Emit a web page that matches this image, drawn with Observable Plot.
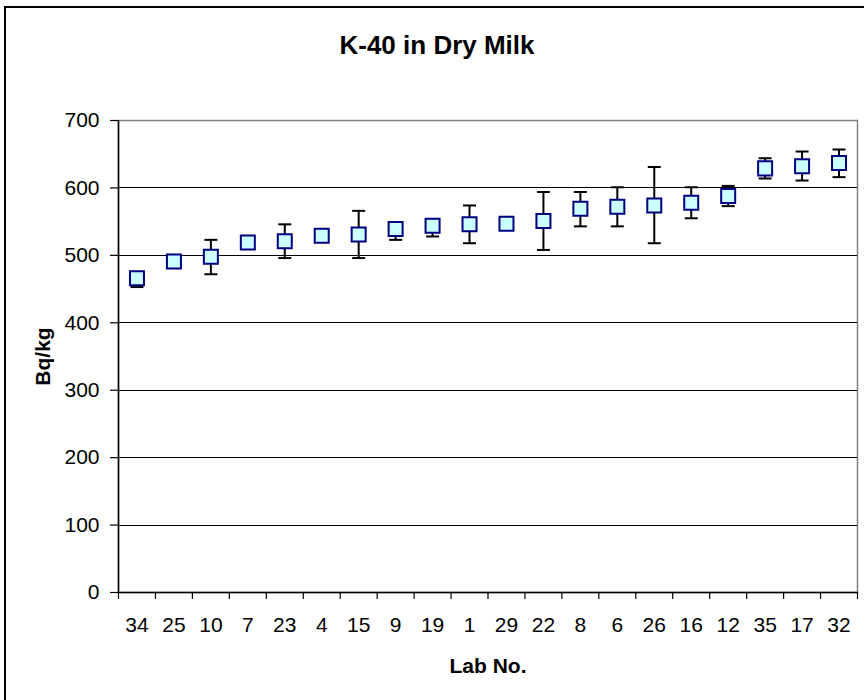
<!DOCTYPE html>
<html>
<head>
<meta charset="utf-8">
<script src="https://cdn.jsdelivr.net/npm/d3@7"></script>
<script src="https://cdn.jsdelivr.net/npm/@observablehq/plot@0.6"></script>
<style>
  html, body { margin: 0; padding: 0; background: #fff; width: 864px; height: 700px; overflow: hidden; }
  #frame { position: absolute; left: 4px; top: 6px; width: 900px; height: 800px; border: 2px solid #000; box-sizing: border-box; pointer-events: none; z-index: 10; }
  #title { box-sizing: border-box; width: 864px; height: 90px; padding-top: 30px; padding-left: 10px; line-height: 30px;
           text-align: center; font: bold 26px "Liberation Sans", Arial, sans-serif; color: #000; }
  #chart { position: relative; }
</style>
</head>
<body>
<div id="frame"></div>
<div id="title">K-40 in Dry Milk</div>
<div id="chart"></div>
<script>
// Lab numbers in plotted order
const labs = ["34","25","10","7","23","4","15","9","19","1","29","22","8","6","26","16","12","35","17","32"];
// Reported K-40 activity (Bq/kg)
const values = [466, 491, 498, 519, 521, 529, 531, 539, 544, 546, 547, 551, 569, 572, 574, 578, 588, 629, 632, 637];
// Error bar lower / upper bounds (null = no visible bar)
const errLow  = [453, null, 472, null, 496, null, 496, 523, 528, 518, null, 508, 543, 543, 518, 555, 573, 614, 611, 616];
const errHigh = [470, null, 523, null, 546, null, 566, 545, 550, 574, null, 594, 594, 601, 631, 601, 603, 644, 654, 657];
// Y axis ticks
const yTicks = [0, 100, 200, 300, 400, 500, 600, 700];
const gridLines = [100, 200, 300, 400, 500, 600];

const rows = labs.map((lab, k) => ({lab, pos: k + 0.5, value: values[k], lo: errLow[k], hi: errHigh[k]}));
const errRows = rows.filter(d => d.lo != null && d.hi != null);
const boundaries = d3.range(0, labs.length + 1);
const centers = rows.map(d => d.pos);

const capSymbol = {
  draw(context, size) {
    const w = Math.sqrt(size);
    context.moveTo(-w / 2, 0);
    context.lineTo(w / 2, 0);
  }
};

const chart = Plot.plot({
  width: 864,
  height: 610,
  marginLeft: 118,
  marginRight: 7,
  marginTop: 30,
  marginBottom: 108,
  style: {fontFamily: '"Liberation Sans", Arial, sans-serif', fontSize: "21px", color: "#000", background: "transparent", overflow: "visible"},
  x: {domain: [0, labs.length], axis: null},
  y: {domain: [0, 700], axis: null},
  marks: [
    Plot.frame({stroke: "#808080", strokeWidth: 1.5}),
    Plot.ruleY(gridLines, {stroke: "#000", strokeWidth: 1, shapeRendering: "crispEdges"}),
    Plot.ruleY([0], {stroke: "#000", strokeWidth: 1.5}),
    Plot.ruleX([0], {stroke: "#000", strokeWidth: 1.5}),
    Plot.axisY({ticks: yTicks, tickSize: 8, tickPadding: 11, tickFormat: d => String(d), label: null, stroke: "#000", strokeOpacity: 1, strokeWidth: 1.2}),
    Plot.axisX({ticks: boundaries, tickSize: 7, tickFormat: () => "", label: null, stroke: "#000", strokeOpacity: 1, strokeWidth: 1.2}),
    Plot.axisX({ticks: centers, tickSize: 0, tickPadding: 25, tickFormat: d => labs[Math.floor(d)], label: null}),
    Plot.ruleX(errRows, {x: "pos", y1: "lo", y2: "hi", stroke: "#000", strokeWidth: 2}),
    Plot.dot(errRows, {x: "pos", y: "lo", symbol: capSymbol, r: 7.33, stroke: "#000", strokeWidth: 2, fill: "none"}),
    Plot.dot(errRows, {x: "pos", y: "hi", symbol: capSymbol, r: 7.33, stroke: "#000", strokeWidth: 2, fill: "none"}),
    Plot.dot(rows, {x: "pos", y: "value", symbol: "square", r: 7.9, fill: "#ccffff", stroke: "#000080", strokeWidth: 2}),
    Plot.text(["Bq/kg"], {frameAnchor: "left", dx: -75, rotate: -90, textAnchor: "middle", lineAnchor: "middle", fontWeight: "bold", fontSize: 21, fill: "#000"}),
    Plot.text(["Lab No."], {frameAnchor: "bottom", dy: 80, textAnchor: "middle", lineAnchor: "bottom", fontWeight: "bold", fontSize: 21, fill: "#000"})
  ]
});
document.getElementById("chart").appendChild(chart);
</script>
</body>
</html>
